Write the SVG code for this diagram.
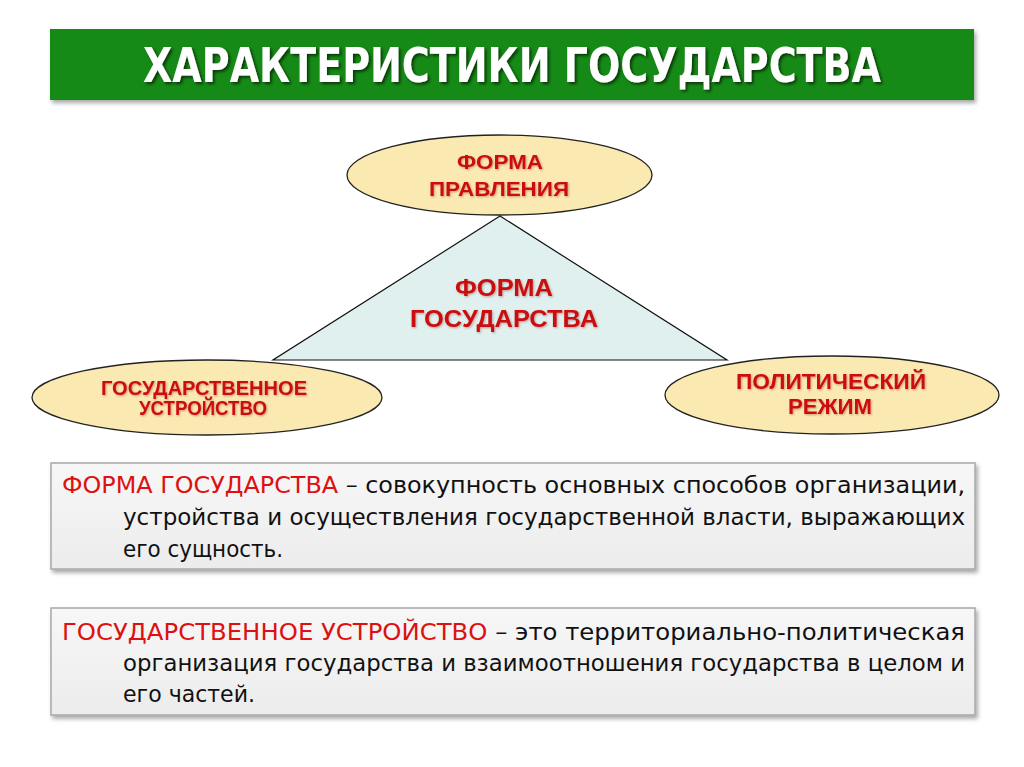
<svg xmlns="http://www.w3.org/2000/svg" width="1024" height="767" viewBox="0 0 1024 767">
<defs>
<filter id="sh" x="-5%" y="-20%" width="110%" height="150%">
<feDropShadow dx="2" dy="3" stdDeviation="2" flood-color="#000" flood-opacity="0.35"/>
</filter>
<filter id="tsh" x="-5%" y="-20%" width="110%" height="150%">
<feDropShadow dx="2" dy="2" stdDeviation="1.5" flood-color="#000" flood-opacity="0.6"/>
</filter>
<filter id="rsh" x="-5%" y="-20%" width="110%" height="150%">
<feDropShadow dx="1" dy="1" stdDeviation="0.8" flood-color="#700" flood-opacity="0.35"/>
</filter>
<linearGradient id="boxg" x1="0" y1="0" x2="0" y2="1">
<stop offset="0" stop-color="#f7f7f7"/>
<stop offset="1" stop-color="#ececec"/>
</linearGradient>
</defs>
<style>
.ell{fill:#fbe9b2;stroke:#222;stroke-width:1.3}
.lbl{font-family:"Liberation Sans",Arial,sans-serif;font-weight:bold;fill:#cc1111;text-anchor:middle}
.box{fill:url(#boxg);stroke:#a8a8a8;stroke-width:1.5}
.body{font-family:"Liberation Sans Narrow","DejaVu Sans Condensed","Liberation Sans",sans-serif;font-size:23px;fill:#111}
.red{fill:#dd1111}
</style>
<rect width="1024" height="767" fill="#ffffff"/>
<g id="title">
<rect x="50" y="29" width="924" height="71" fill="#178a17" filter="url(#sh)"/>
<text x="512" y="82" font-family="Liberation Sans Narrow,'DejaVu Sans Condensed','Liberation Sans',sans-serif" font-weight="bold" font-size="48" fill="#ffffff" text-anchor="middle" textLength="738" lengthAdjust="spacingAndGlyphs" filter="url(#tsh)">ХАРАКТЕРИСТИКИ ГОСУДАРСТВА</text>
</g>
<g id="connectors"></g>
<g id="forma-gosudarstva">
<polygon points="500,216 273,360 727,360" fill="#dff0ef" stroke="#111" stroke-width="1.2"/>
<text class="lbl" x="504" y="296" font-size="23" textLength="98" lengthAdjust="spacingAndGlyphs" filter="url(#rsh)">ФОРМА</text>
<text class="lbl" x="504" y="327" font-size="23" textLength="188" lengthAdjust="spacingAndGlyphs" filter="url(#rsh)">ГОСУДАРСТВА</text>
</g>
<g id="forma-pravleniya">
<ellipse class="ell" cx="499.5" cy="175" rx="152.5" ry="40"/>
<text class="lbl" x="500" y="169" font-size="21" textLength="86" lengthAdjust="spacingAndGlyphs" filter="url(#rsh)">ФОРМА</text>
<text class="lbl" x="499" y="196" font-size="21" textLength="140" lengthAdjust="spacingAndGlyphs" filter="url(#rsh)">ПРАВЛЕНИЯ</text>
</g>
<g id="gos-ustroystvo">
<ellipse class="ell" cx="207" cy="397.5" rx="175" ry="37.5"/>
<text class="lbl" x="204" y="395" font-size="20" textLength="206" lengthAdjust="spacingAndGlyphs" filter="url(#rsh)">ГОСУДАРСТВЕННОЕ</text>
<text class="lbl" x="203" y="415" font-size="20" textLength="128" lengthAdjust="spacingAndGlyphs" filter="url(#rsh)">УСТРОЙСТВО</text>
</g>
<g id="polit-rezhim">
<ellipse class="ell" cx="832" cy="395" rx="167" ry="39"/>
<text class="lbl" x="831" y="389" font-size="22" textLength="190" lengthAdjust="spacingAndGlyphs" filter="url(#rsh)">ПОЛИТИЧЕСКИЙ</text>
<text class="lbl" x="830" y="414" font-size="22" textLength="84" lengthAdjust="spacingAndGlyphs" filter="url(#rsh)">РЕЖИМ</text>
</g>
<g id="def1">
<rect class="box" x="51" y="463" width="924" height="106" filter="url(#sh)"/>
<text class="body" x="62" y="493" textLength="903" lengthAdjust="spacingAndGlyphs"><tspan class="red">ФОРМА ГОСУДАРСТВА</tspan> – совокупность основных способов организации,</text>
<text class="body" x="123" y="525" textLength="842" lengthAdjust="spacingAndGlyphs">устройства и осуществления государственной власти, выражающих</text>
<text class="body" x="123" y="557" textLength="160" lengthAdjust="spacingAndGlyphs">его сущность.</text>
</g>
<g id="def2">
<rect class="box" x="51" y="608" width="924" height="107" filter="url(#sh)"/>
<text class="body" x="62" y="640" textLength="903" lengthAdjust="spacingAndGlyphs"><tspan class="red">ГОСУДАРСТВЕННОЕ  УСТРОЙСТВО</tspan>  –  это  территориально-политическая</text>
<text class="body" x="123" y="671" textLength="842" lengthAdjust="spacingAndGlyphs">организация государства и взаимоотношения государства в целом и</text>
<text class="body" x="123" y="702" textLength="132" lengthAdjust="spacingAndGlyphs">его частей.</text>
</g>
</svg>
